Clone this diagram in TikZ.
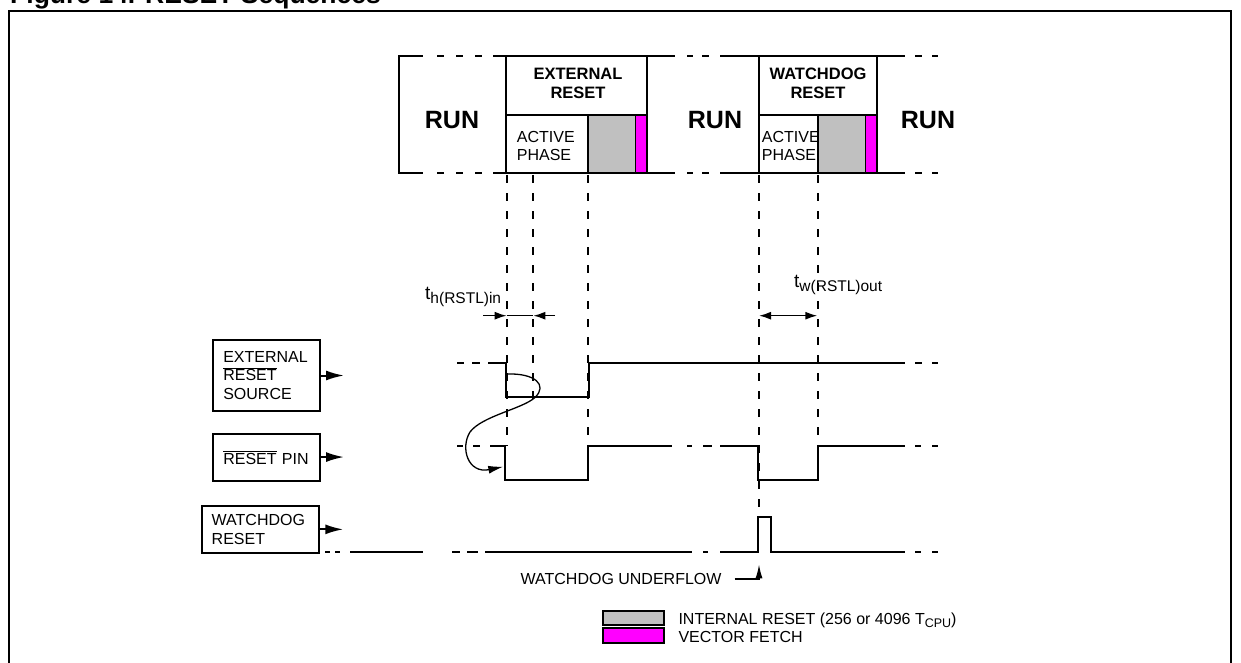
\documentclass[tikz,border=0pt]{standalone}
\usepackage{fontspec}
\setmainfont{Liberation Sans}
\usetikzlibrary{arrows.meta}
\definecolor{rgray}{HTML}{C0C0C0}
\definecolor{rmag}{HTML}{FF00FF}
\newcommand{\ovlx}[1]{$\overline{\hbox{#1}}$}
\begin{document}
\begin{tikzpicture}[x=1pt,y=-1pt,
  sig/.style={line width=2pt},
  bx/.style={line width=2pt},
  guide/.style={line width=1.8pt, dash pattern=on 8pt off 10pt},
  lbl/.style={font=\fontsize{16}{18.7}\selectfont, inner sep=0pt, align=left},
  blbl/.style={font=\bfseries\fontsize{16.5}{18.7}\selectfont, inner sep=0pt, align=center},
  runl/.style={font=\bfseries\fontsize{25}{25}\selectfont, inner sep=0pt},
  sigbox/.style={draw, line width=2pt, inner xsep=10pt, inner ysep=0pt, anchor=north west,
     font=\fontsize{16}{18.7}\selectfont, align=left},
  inarrow/.style={line width=2pt, -{Latex[length=18pt,width=10pt]}},
  tarrow/.style={line width=1.5pt},
  tip/.style={-{Latex[length=12pt,width=8pt]}},
]
\useasboundingbox (0,0) rectangle (1241,663);
\clip (0,0) rectangle (1241,663);
% title and frame
\node[anchor=base west, inner sep=0pt, font=\bfseries\fontsize{26.5}{26.5}\selectfont] (title) at (10,4) {Figure 14. RESET Sequences};
\draw[bx] (9,680) -- (9,11) -- (1231,11) -- (1231,680);

% ---- state row ----
\fill[rgray] (588.3,115) rectangle (635,173.3);
\fill[rmag] (635,115) rectangle (646.7,173.3);
\fill[rgray] (818,115) rectangle (865,173.3);
\fill[rmag] (865,115) rectangle (877,173.3);
\foreach \yy in {55.7,173.3}{
  \draw[sig] (398,\yy) -- (423,\yy);
  \draw[sig] (437,\yy) -- (444,\yy) (456,\yy) -- (463,\yy) (475,\yy) -- (482,\yy);
  \draw[sig] (493,\yy) -- (675,\yy);
  \draw[sig] (687,\yy) -- (693,\yy) (702,\yy) -- (709,\yy);
  \draw[sig] (720,\yy) -- (905,\yy);
  \draw[sig] (915,\yy) -- (922,\yy) (932,\yy) -- (938,\yy);
}
\draw[bx] (399,55.7) -- (399,173.3);
\draw[bx] (506,55.7) -- (506,173.3);
\draw[bx] (646.7,55.7) -- (646.7,173.3);
\draw[bx] (506,115) -- (646.7,115);
\draw[bx] (588.3,115) -- (588.3,173.3);
\draw[line width=1pt] (635,115) -- (635,173.3);
\draw[bx] (759,55.7) -- (759,173.3);
\draw[bx] (877,55.7) -- (877,173.3);
\draw[bx] (759,115) -- (877,115);
\draw[bx] (818,115) -- (818,173.3);
\draw[line width=1pt] (865,115) -- (865,173.3);

\node[runl] (run1) at (452,120) {RUN};
\node[runl] (run2) at (715,120) {RUN};
\node[runl] (run3) at (928,120) {RUN};
\node[blbl] (extr) at (578,83.5) {EXTERNAL\\RESET};
\node[blbl] (wdr) at (818,83.5) {WATCHDOG\\RESET};
\node[lbl, anchor=west] (ap1) at (516.7,146) {ACTIVE\\PHASE};
\node[lbl, anchor=west] (ap2) at (761.7,146) {ACTIVE\\PHASE};

% ---- guides ----
\draw[guide] (506.7,175) -- (506.7,445.7);
\draw[guide] (533.3,175) -- (533.3,400);
\draw[guide] (588.3,175) -- (588.3,445.7);
\draw[guide] (759,175) -- (759,516.7);
\draw[guide] (818.3,175) -- (818.3,445.7);

% ---- timing labels ----
\draw[tarrow, tip] (483,315.7) -- (506.7,315.7);
\draw[tarrow, tip] (555,315.7) -- (533.3,315.7);
\draw[tarrow] (506.7,315.7) -- (533.3,315.7);
\node[anchor=base west, inner sep=0pt] (thl) at (425,299)
  {\fontsize{19}{19}\selectfont t\raisebox{-4pt}{\fontsize{15.5}{15.5}\selectfont h(RSTL)in}};
\draw[tarrow, {Latex[length=12pt,width=8pt]}-{Latex[length=12pt,width=8pt]}] (759,315.7) -- (817.3,315.7);
\node[anchor=base west, inner sep=0pt] (twl) at (794,287)
  {\fontsize{19}{19}\selectfont t\raisebox{-4.6pt}{\fontsize{15.5}{15.5}\selectfont w(RSTL)out}};

% ---- signal label boxes ----
\node[sigbox, text width=86.7pt, minimum height=71pt] (ers) at (212.3,339) {EXTERNAL\\\ovlx{RESET}\\SOURCE};
\node[sigbox, text width=86.7pt, minimum height=46.7pt] (rpin) at (212.3,433.3) {\ovlx{RESET} PIN};
\node[sigbox, text width=97.6pt, minimum height=46.7pt] (wdbox) at (200.7,505) {WATCHDOG\\RESET};
\draw[inarrow] (ers.east) -- ++(23,0);
\draw[inarrow] ([yshift=0.6pt]rpin.east) -- ++(23,0);
\draw[inarrow] (wdbox.east) -- ++(23,0);

% ---- signals ----
% external reset source
\draw[sig] (457,362.7) -- (464,362.7) (472,362.7) -- (480,362.7);
\draw[sig] (488,362.7) -- (506.3,362.7) -- (506.3,397.3) -- (588.8,397.3) -- (588.8,362.7) -- (905,362.7);
\draw[sig] (915,362.7) -- (922,362.7) (932,362.7) -- (938,362.7);
% reset pin
\draw[sig] (457,445.7) -- (463,445.7) (473,445.7) -- (480,445.7);
\draw[sig] (490,445.7) -- (505,445.7) -- (505,480) -- (588.3,480) -- (588.3,445.7) -- (671.7,445.7);
\draw[sig] (687,445.7) -- (692,445.7) (703,445.7) -- (712,445.7);
\draw[sig] (720,445.7) -- (758.3,445.7) -- (758.3,480) -- (818.3,480) -- (818.3,445.7) -- (905,445.7);
\draw[sig] (915,445.7) -- (921,445.7) (932,445.7) -- (938,445.7);
% watchdog reset
\draw[sig] (325,551.7) -- (330,551.7) (335,551.7) -- (340,551.7);
\draw[sig] (350,551.7) -- (423,551.7);
\draw[sig] (452,551.7) -- (460,551.7) (467,551.7) -- (478,551.7);
\draw[sig] (485,551.7) -- (691.7,551.7);
\draw[sig] (703,551.7) -- (708,551.7);
\draw[sig] (720,551.7) -- (758.3,551.7) -- (758.3,516.7) -- (771,516.7) -- (771,551.7) -- (905,551.7);
\draw[sig] (915,551.7) -- (921,551.7) (932,551.7) -- (938,551.7);

% ---- causal curve ----
\draw[line width=1.3pt, -{Latex[length=15pt,width=8pt]}]
  (506.7,374) .. controls (535,373) and (548,385) .. (535,397.5)
  .. controls (522,409) and (482,416) .. (470,432)
  .. controls (460,448) and (468,474) .. (503.3,466.7);

% ---- watchdog underflow ----
\node[lbl, anchor=base east] (wdu) at (721.7,584) {WATCHDOG UNDERFLOW};
\coordinate (wduc) at (759,579);
\draw[line width=1.5pt, -{Latex[length=14pt,width=7pt]}] ([xshift=13pt]wdu.east |- wduc) -- (wduc) -- (759,564.3);

% ---- legend ----
\node[draw, line width=2pt, fill=rgray, minimum width=61pt, minimum height=14.3pt, inner sep=0pt, anchor=north west] (lg1) at (602.3,610) {};
\node[draw, line width=2pt, fill=rmag, minimum width=61pt, minimum height=15.6pt, inner sep=0pt, anchor=north west] (lg2) at (602.3,626.7) {};
\node[lbl, anchor=west] (lt1) at (678.3,620) {INTERNAL RESET (256 or 4096 T\raisebox{-3pt}{\fontsize{12.5}{12.5}\selectfont CPU})};
\node[lbl, anchor=west] (lt2) at (678.3,636.7) {VECTOR FETCH};
\end{tikzpicture}
\end{document}
